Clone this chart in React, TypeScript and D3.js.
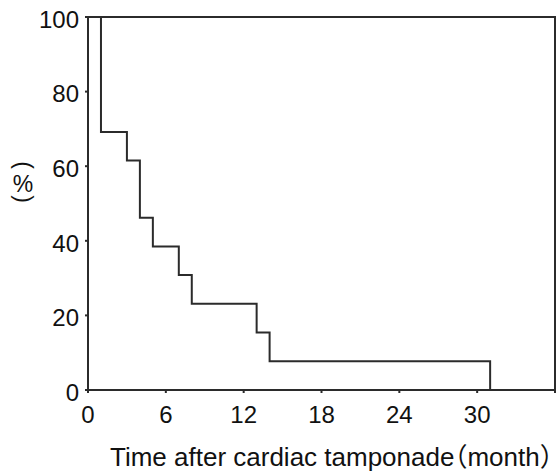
import React from 'react';
import * as d3 from 'd3';

// Kaplan-Meier style step data (months, % remaining)
const months = [0, 1, 3, 4, 5, 7, 8, 13, 14, 31];
const percent = [100, 69.2, 61.5, 46.2, 38.5, 30.8, 23.1, 15.4, 7.7, 0];
const xTicks = [0, 6, 12, 18, 24, 30, 36];
const xTickLabels = ['0', '6', '12', '18', '24', '30', ''];
const yTicks = [0, 20, 40, 60, 80, 100];
const xTitle = 'Time after cardiac tamponade';
const xUnit = 'month';

const width = 560;
const height = 472;
const margin = { top: 17, right: 5, bottom: 82, left: 88 };
const font = '"Liberation Sans", Arial, sans-serif';
const cjk = '"Noto Sans CJK SC", sans-serif';
const ink = '#2b2b2b';

export default function App() {
    const x = d3.scaleLinear().domain([0, 36]).range([margin.left, width - margin.right]);
    const y = d3.scaleLinear().domain([0, 100]).range([height - margin.bottom, margin.top]);

    const pts = months.map((m, i) => ({ m, p: percent[i] }));
    const line = d3.line<{ m: number; p: number }>()
        .x(d => x(d.m))
        .y(d => y(d.p))
        .curve(d3.curveStepAfter);

    const x0 = x(0), x1 = x(36), y0 = y(0), y1 = y(100);

    return (
        <svg width={width} height={height} style={{ position: 'absolute', left: 0, top: 0, background: '#fff' }}
            fontFamily={font}>
            {/* frame */}
            <rect x={x0} y={y1} width={x1 - x0} height={y0 - y1} fill="none" stroke={ink} strokeWidth={2} />

            {/* y ticks */}
            {yTicks.map(t => (
                <g key={'y' + t}>
                    <line x1={x0 - 3} x2={x0} y1={y(t)} y2={y(t)} stroke={ink} strokeWidth={2} />
                    <text x={x0 - 9} y={y(t)} dy="0.45em" textAnchor="end" fontSize={24} fill="#111">{t}</text>
                </g>
            ))}

            {/* x ticks */}
            {xTicks.map((t, i) => (
                <g key={'x' + t}>
                    <line x1={x(t)} x2={x(t)} y1={y0} y2={y0 + 3} stroke={ink} strokeWidth={2} />
                    <text x={x(t)} y={y0 + 33} textAnchor="middle" fontSize={24} fill="#111">{xTickLabels[i]}</text>
                </g>
            ))}

            {/* survival curve */}
            <path d={line(pts) ?? ''} fill="none" stroke={ink} strokeWidth={2} />

            {/* y axis label: (%) set vertically */}
            <g fontSize={23} fill="#111" textAnchor="middle">
                <g transform="translate(22.5,165) rotate(90)">
                    <text x={0} y={0} dy="0.27em">(</text>
                </g>
                <text x={23} y={192}>%</text>
                <g transform="translate(22.5,199) rotate(90)">
                    <text x={0} y={0} dy="0.27em">)</text>
                </g>
            </g>

            {/* x axis title */}
            <text x={110} y={466} fontSize={26} fill="#111">
                {xTitle}
                <tspan dx={-13} fontFamily={cjk}>（</tspan>
                <tspan>{xUnit}</tspan>
                <tspan fontFamily={cjk}>）</tspan>
            </text>
        </svg>
    );
}
